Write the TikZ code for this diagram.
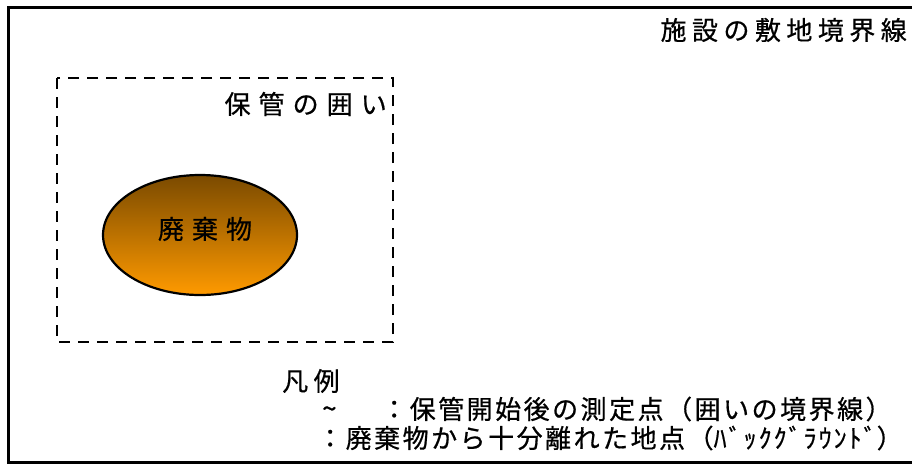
\documentclass[tikz,border=0pt]{standalone}
\usepackage{fontspec}
\newfontfamily\jp[LetterSpace=21,FakeBold=0.6]{Noto Sans CJK JP}
\newfontfamily\jpwide[LetterSpace=31,FakeBold=0.6]{Noto Sans CJK JP}
\newfontfamily\jpleg[LetterSpace=9.6,FakeBold=0.6]{Noto Sans CJK JP}
\newfontfamily\jphalf[LetterSpace=7.7,FakeBold=0.6]{Noto Sans CJK JP}
\usetikzlibrary{shapes.geometric}
\definecolor{wbrown}{HTML}{7A4A00}
\definecolor{worange}{HTML}{FF9A00}
\tikzset{
  lbl/.style={inner sep=0pt, font=\jp\fontsize{26}{26}\selectfont, text=black},
  widelbl/.style={inner sep=0pt, font=\jpwide\fontsize{26}{26}\selectfont, text=black},
  leglbl/.style={inner sep=0pt, font=\jpleg\fontsize{26}{26}\selectfont, text=black},
  sitebound/.style={draw=black, line width=3pt},
  enclosure/.style={draw=black, line width=2.6pt, dash pattern=on 11pt off 8pt},
  waste/.style={ellipse, draw=black, line width=2.2pt, top color=wbrown, bottom color=worange,
    minimum width=194pt, minimum height=120pt, inner sep=0pt}
}
\begin{document}
\begin{tikzpicture}[x=1pt,y=-1pt]
\useasboundingbox (0,0) rectangle (912,463);
\clip (0,0) rectangle (912,463);
\draw[sitebound] (930,7.5) -- (8.5,7.5) -- (8.5,462) -- (930,462);
\draw[enclosure] (57,78) rectangle (393,342);
\node[waste] (w) at (200,235) {};
\node[widelbl] (wl) at (205,229) {廃棄物};
\node[widelbl, anchor=east] (encl) at (387,104) {保管の囲い};
\node[lbl, anchor=east] (site) at (907,30) {施設の敷地境界線};
\node[lbl, anchor=west] (leg) at (282,381) {凡例};
\node[leglbl, anchor=base west, text height=14pt, text depth=0pt] (tilde) at (322,418) {\textasciitilde};
\node[leglbl, anchor=west] (l2) at (381,409) {：保管開始後の測定点（囲いの境界線）};
\node[leglbl, anchor=west] (l3) at (317,438) {：廃棄物から十分離れた地点（{\jphalf\fontsize{26}{26}\selectfont ﾊﾞｯｸｸﾞﾗｳﾝﾄﾞ}）};
\end{tikzpicture}
\end{document}
